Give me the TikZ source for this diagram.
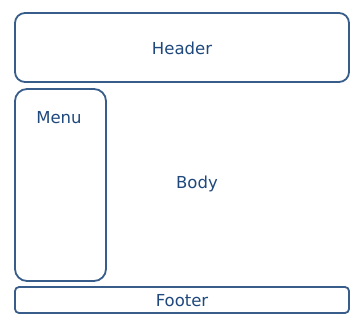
\documentclass[tikz,border=0pt]{standalone}
\usepackage{fontspec}
\setmainfont{DejaVu Sans}
\definecolor{edge}{HTML}{385D8A}
\definecolor{ink}{HTML}{1F497D}
\begin{document}
\begin{tikzpicture}[x=1pt,y=-1pt,
  box/.style={draw=edge,line width=1.8pt,fill=white},
  lbl/.style={text=ink,font=\fontsize{16.5}{18}\selectfont,inner sep=0pt}]
\useasboundingbox (0,0) rectangle (359,321);
\draw[box,rounded corners=10pt] (15,13) rectangle (349,82);
\draw[box,rounded corners=12pt] (15,89) rectangle (106,281);
\draw[box,rounded corners=4pt] (15,287) rectangle (349,313);
\node[lbl] (header) at (182,48) {Header};
\node[lbl] (menu) at (59,118) {Menu};
\node[lbl] (body) at (197,183.5) {Body};
\node[lbl] (footer) at (182,301) {Footer};
\end{tikzpicture}
\end{document}
